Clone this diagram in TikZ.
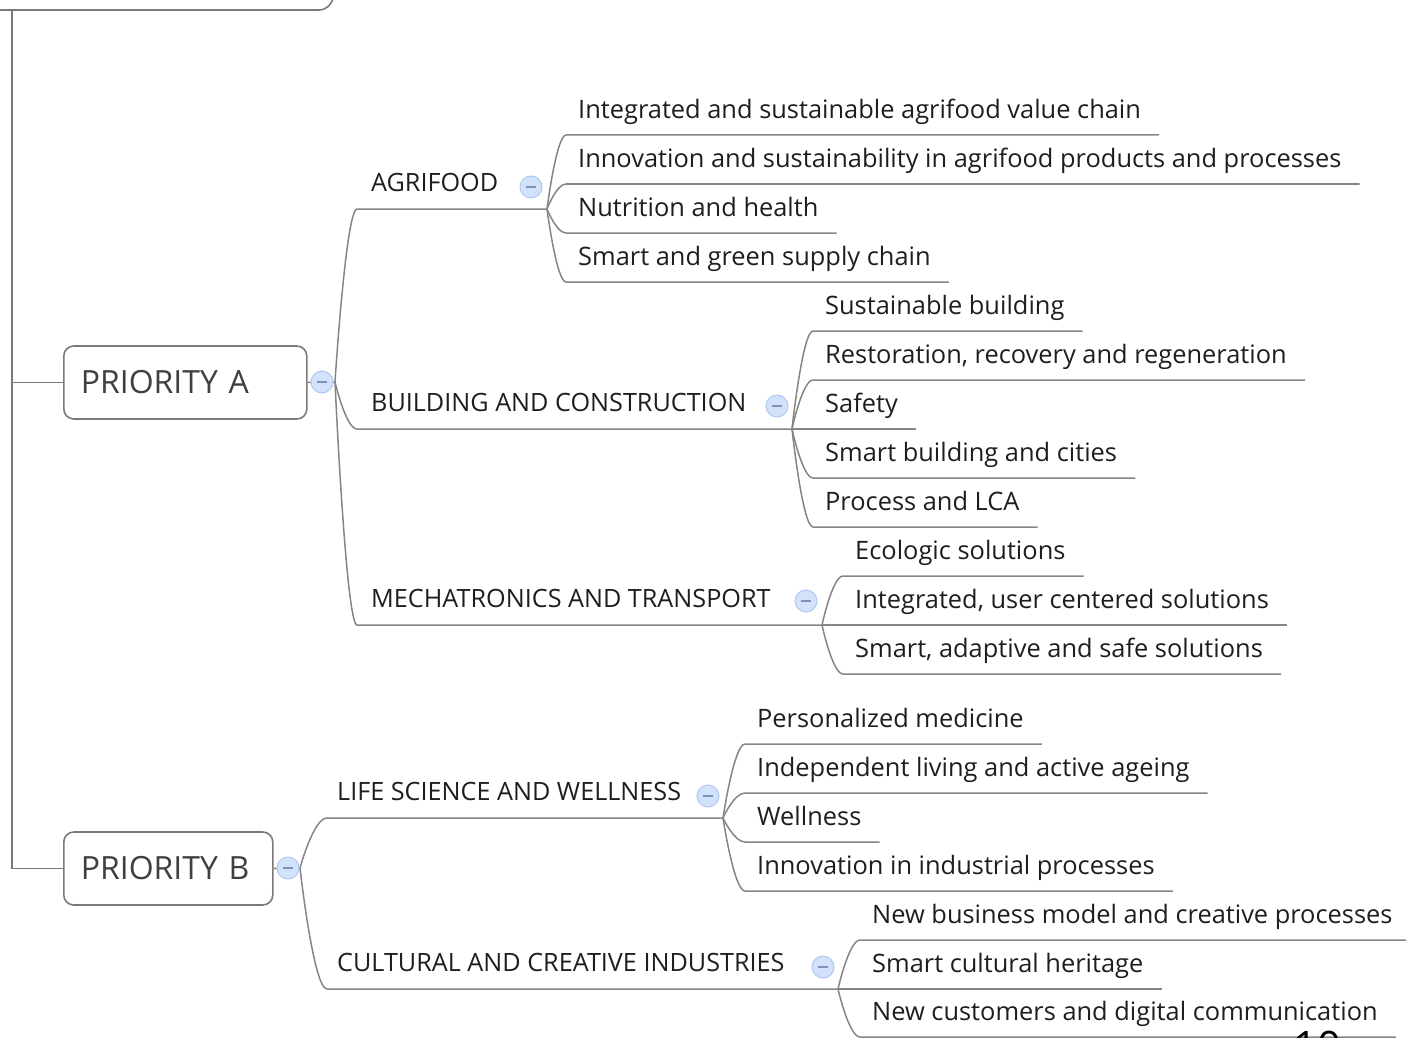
\documentclass[tikz,border=0pt]{standalone}
\usepackage{fontspec}
\setmainfont{Open Sans}
\usetikzlibrary{calc}
\definecolor{linegray}{HTML}{858585}
\definecolor{boxgray}{HTML}{7A7A7A}
\definecolor{txt}{HTML}{1E1E1E}
\definecolor{colfill}{HTML}{D3E2FB}
\definecolor{coldraw}{HTML}{AFC8F2}
\definecolor{coldash}{HTML}{7F91B8}
\begin{document}
\begin{tikzpicture}[x=1pt,y=-1pt,
  conn/.style={draw=linegray, line width=1.5pt},
  branch/.style={to path={.. controls (\tikztostart) and ($(\tikztostart |- \tikztotarget)!0.5!(\tikztotarget)$) .. (\tikztotarget) \tikztonodes}},
  topic/.style={draw=boxgray, line width=1.6pt, rounded corners=10pt, fill=white,
    font=\fontsize{32}{38}\selectfont, text=txt!85, inner xsep=17pt, inner ysep=0pt,
    minimum height=73pt, align=left},
  lone/.style={anchor=south west, inner sep=0pt, font=\fontsize{25.2}{30}\selectfont,
    text=txt, text depth=17pt},
  leaf/.style={anchor=south west, inner sep=0pt, font=\fontsize{25.4}{30}\selectfont,
    text=txt, text depth=16pt, execute at begin node={\hspace*{12pt}},
    execute at end node={\hspace*{18pt}}},
  collapse/.style={circle, draw=coldraw, fill=colfill, line width=1pt, minimum size=22pt,
    inner sep=0pt, path picture={\draw[coldash, line width=1.2pt]
      ($(path picture bounding box.center)+(-5,0)$) -- ($(path picture bounding box.center)+(5,0)$);}},
]
\useasboundingbox (0,0) rectangle (1406,1038);

% partially visible root box
\node[draw=boxgray, line width=1.6pt, rounded corners=14pt, minimum width=380pt,
  minimum height=100pt, inner sep=0pt] (root) at (143,-40) {};
\coordinate (trunk) at (12,10);

% priority boxes
\node[topic, text width=209pt, anchor=west] (pa) at (63,382.5) {PRIORITY A};
\node[topic, text width=175pt, anchor=west] (pb) at (63,868.5) {PRIORITY B};
\draw[conn, draw=boxgray, line width=1.8pt] (trunk) |- (pa.west);
\draw[conn, draw=boxgray, line width=1.8pt] (trunk) |- (pb.west);

\coordinate (sA) at (335,382);
\coordinate (sB) at (300,868);
\draw[conn] (pa.east) -- (sA);
\draw[conn] (pb.east) -- (sB);

% ---------- level 1 under PRIORITY A
\node[lone, execute at begin node={\hspace*{14pt}}] (agri) at (357,209) {AGRIFOOD};
\node[lone, execute at begin node={\hspace*{14pt}}] (build) at (357,429) {BUILDING AND CONSTRUCTION};
\node[lone, execute at begin node={\hspace*{14pt}}] (mech) at (357,625) {MECHATRONICS AND TRANSPORT};
\coordinate (fA) at (547,209);
\coordinate (fB) at (792,429);
\coordinate (fM) at (822,625);
\draw[conn] (sA) to[branch] (agri.south west) -- (fA);
\draw[conn] (sA) to[branch] (build.south west) -- (fB);
\draw[conn] (sA) to[branch] (mech.south west) -- (fM);

% ---------- level 1 under PRIORITY B
\node[lone, execute at begin node={\hspace*{10pt}}] (life) at (327,818) {LIFE SCIENCE AND WELLNESS};
\node[lone, execute at begin node={\hspace*{10pt}}] (cult) at (327,989) {CULTURAL AND CREATIVE INDUSTRIES};
\coordinate (fL) at (723,818);
\coordinate (fC) at (838,989);
\draw[conn] (sB) to[branch] (life.south west) -- (fL);
\draw[conn] (sB) to[branch] (cult.south west) -- (fC);

% ---------- leaves AGRIFOOD
\node[leaf] (a1) at (566,135) {Integrated and sustainable agrifood value chain};
\node[leaf] (a2) at (566,184) {Innovation and sustainability in agrifood products and processes};
\node[leaf] (a3) at (566,233) {Nutrition and health};
\node[leaf] (a4) at (566,282) {Smart and green supply chain};
\foreach \n in {a1,a2,a3,a4}
  \draw[conn] (fA) to[branch] (\n.south west) -- (\n.south east);

% ---------- leaves BUILDING
\node[leaf] (b1) at (813,331) {Sustainable building};
\node[leaf] (b2) at (813,380) {Restoration, recovery and regeneration};
\node[leaf] (b3) at (813,429) {Safety};
\node[leaf] (b4) at (813,478) {Smart building and cities};
\node[leaf] (b5) at (813,527) {Process and LCA};
\foreach \n in {b1,b2,b3,b4,b5}
  \draw[conn] (fB) to[branch] (\n.south west) -- (\n.south east);

% ---------- leaves MECHATRONICS
\node[leaf] (m1) at (843,576) {Ecologic solutions};
\node[leaf] (m2) at (843,625) {Integrated, user centered solutions};
\node[leaf] (m3) at (843,674) {Smart, adaptive and safe solutions};
\foreach \n in {m1,m2,m3}
  \draw[conn] (fM) to[branch] (\n.south west) -- (\n.south east);

% ---------- leaves LIFE SCIENCE
\node[leaf] (l1) at (745,744) {Personalized medicine};
\node[leaf] (l2) at (745,793) {Independent living and active ageing};
\node[leaf] (l3) at (745,842) {Wellness};
\node[leaf] (l4) at (745,891) {Innovation in industrial processes};
\foreach \n in {l1,l2,l3,l4}
  \draw[conn] (fL) to[branch] (\n.south west) -- (\n.south east);

% ---------- leaves CULTURAL
\node[leaf] (c1) at (860,940) {New business model and creative processes};
\node[leaf] (c2) at (860,989) {Smart cultural heritage};
\node[leaf] (c3) at (860,1037) {New customers and digital communication};
\foreach \n in {c1,c2,c3}
  \draw[conn] (fC) to[branch] (\n.south west) -- (\n.south east);

% ---------- collapse buttons
\node[collapse] (kA) at (322,382) {};
\node[collapse] (kB) at (288,868) {};
\node[collapse] (kAg) at ($(fA)+(-16,-22)$) {};
\node[collapse] (kBu) at ($(fB)+(-15,-23)$) {};
\node[collapse] (kMe) at ($(fM)+(-16,-24)$) {};
\node[collapse] (kLi) at ($(fL)+(-15,-22)$) {};
\node[collapse] (kCu) at ($(fC)+(-15,-22)$) {};

% page number (cut off by the page edge, as in the reference)
\node[anchor=north west, inner sep=0pt, font=\fontsize{42}{50}\selectfont] (pg) at (1293,1031) {10};
\end{tikzpicture}
\end{document}
